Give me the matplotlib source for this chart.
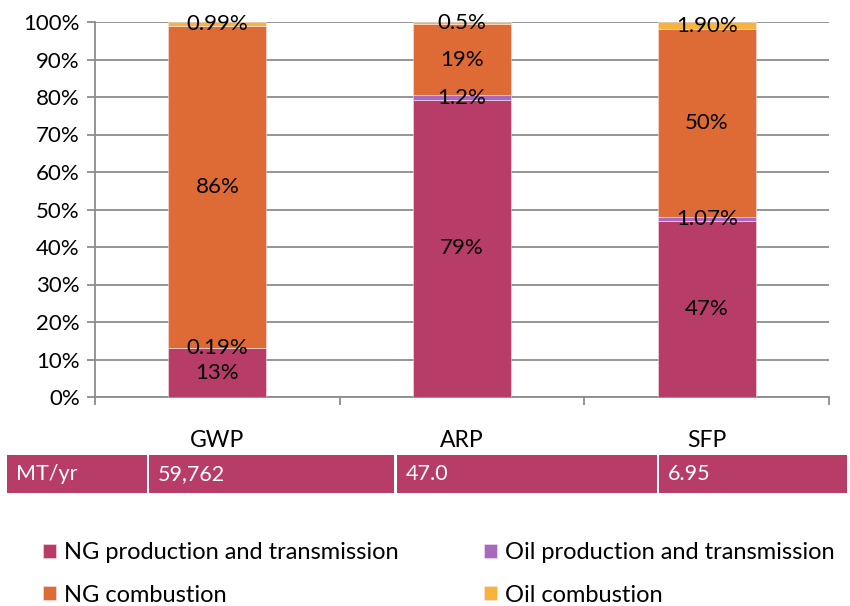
import matplotlib
matplotlib.use("Agg")
import matplotlib.pyplot as plt
from matplotlib.patches import Rectangle
from matplotlib.ticker import FixedLocator, PercentFormatter
import numpy as np

plt.rcParams['font.family'] = ['Lato', 'DejaVu Sans']

# --- data -------------------------------------------------------------
sites = ["GWP", "ARP", "SFP"]
series = ["NG production and transmission", "Oil production and transmission",
          "NG combustion", "Oil combustion"]
ng_production = [13, 79, 47]
oil_production = [0.19, 1.2, 1.07]
ng_combustion = [86, 19, 50]
oil_combustion = [0.99, 0.5, 1.90]
label_text = [
    ["13%", "79%", "47%"],
    ["0.19%", "1.2%", "1.07%"],
    ["86%", "19%", "50%"],
    ["0.99%", "0.5%", "1.90%"],
]
row_header = "MT/yr"
mt_per_year = ["59,762", "47.0", "6.95"]

colors = ["#B83C68", "#A868BE", "#DE6B35", "#F8B43A"]

# --- figure -----------------------------------------------------------
W, H = 850, 606
fig = plt.figure(figsize=(W / 100, H / 100), dpi=100)
ax = fig.add_axes([95 / W, 1 - 397 / H, (829 - 95) / W, (397 - 22) / H])

values = np.array([ng_production, oil_production, ng_combustion, oil_combustion], dtype=float)
shares = values / values.sum(axis=0) * 100  # 100 % stacked
x = np.arange(len(sites))
bottom = np.zeros(len(sites))
for i, name in enumerate(series):
    ax.bar(x, shares[i], 0.4, bottom=bottom, color=colors[i], label=name,
           edgecolor="#F4E4EA", linewidth=0.4, zorder=3)
    for j in range(len(sites)):
        ax.text(x[j], bottom[j] + shares[i][j] / 2, label_text[i][j],
                ha="center", va="center", fontsize=16, color="black", zorder=4)
    bottom += shares[i]

ax.set_xlim(-0.5, len(sites) - 0.5)
ax.set_ylim(0, 100)
ax.set_yticks(np.arange(0, 101, 10))
ax.yaxis.set_major_formatter(PercentFormatter(decimals=0))
ax.yaxis.grid(True, color="#8C8C8C", linewidth=1.3, zorder=0)
ax.set_axisbelow(True)

ax.set_xticks(x)
ax.set_xticklabels(sites)
ax.xaxis.set_minor_locator(FixedLocator(np.arange(-0.5, len(sites), 1.0)))
ax.tick_params(axis="x", which="major", length=0, pad=24, labelsize=16.5)
ax.tick_params(axis="x", which="minor", length=6, width=1.3, color="#8C8C8C", direction="out")
ax.tick_params(axis="y", length=6, width=1.3, color="#8C8C8C", labelsize=16, pad=5)

for side in ("top", "right"):
    ax.spines[side].set_visible(False)
for side in ("left", "bottom"):
    ax.spines[side].set_color("#8C8C8C")
    ax.spines[side].set_linewidth(1.3)

# --- MT/yr row beneath the categories ----------------------------------
cells = [(7, 147), (149, 394), (397, 657), (659, 847)]
texts = [row_header] + mt_per_year
y0, y1 = 455, 493
for (a, b), t in zip(cells, texts):
    fig.patches.append(Rectangle((a / W, 1 - y1 / H), (b - a) / W, (y1 - y0) / H,
                                 transform=fig.transFigure, facecolor=colors[0],
                                 edgecolor="none"))
    fig.text((a + 9) / W, 1 - (y0 + y1) / 2 / H, t, color="white", fontsize=15.5,
             ha="left", va="center")

# --- legend -------------------------------------------------------------
handles, labels = ax.get_legend_handles_labels()
order = [0, 2, 1, 3]
fig.legend([handles[k] for k in order], [labels[k] for k in order],
           ncol=2, loc="upper left", bbox_to_anchor=(22 / W, 1 - 521 / H),
           frameon=False, fontsize=17, handlelength=0.55, handleheight=0.55,
           handletextpad=0.35, columnspacing=3.6, labelspacing=0.9)

fig.savefig("out.png", dpi=100)
